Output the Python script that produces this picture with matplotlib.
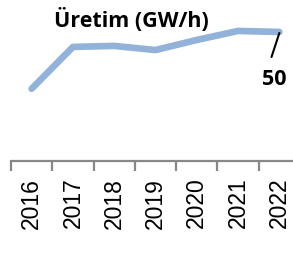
import matplotlib
matplotlib.use('Agg')
import matplotlib.pyplot as plt

years = ['2016', '2017', '2018', '2019', '2020', '2021', '2022']
production = [28, 44.2, 44.6, 43, 46.9, 50.4, 50]

fig = plt.figure(figsize=(2.93, 2.6), dpi=100)
# axes extends past the right edge, as in the reference (clipped chart)
ax = fig.add_axes([11 / 293, 99 / 260, 289 / 293, 160 / 260])

x = range(len(years))
ax.plot(x, production, color='#92B2D9', lw=4.8, solid_capstyle='round',
        solid_joinstyle='round', clip_on=False)
ax.set_xlim(-0.5, len(years) - 0.5)
ax.set_ylim(0, 62)

for s in ['top', 'right', 'left']:
    ax.spines[s].set_visible(False)
ax.spines['bottom'].set_color('#888888')
ax.spines['bottom'].set_linewidth(1.6)
ax.set_yticks([])
ax.set_xticks([i - 0.5 for i in range(len(years) + 1)], minor=False)
ax.set_xticklabels([])
ax.tick_params(axis='x', length=7, width=1.6, color='#888888', direction='out')
ax.set_xticks(list(x), minor=True)
ax.set_xticklabels(years, minor=True, rotation=90, fontsize=16.5,
                   family='Liberation Sans')
ax.tick_params(axis='x', which='minor', length=0, pad=12)

# data label with leader line
last = len(years) - 1
ax.annotate('', xy=(last, production[-1] - 0.4), xytext=(last - 0.19, 40.3),
            arrowprops=dict(arrowstyle='-', color='black', lw=1.5,
                            shrinkA=0, shrinkB=0))
ax.text(last - 0.13, 31.4, '50', ha='center', va='center', fontsize=15.5,
        fontweight='bold', family='Open Sans')

fig.text(131 / 293, 1 - 20 / 260, 'Üretim (GW/h)', ha='center', va='center',
         fontsize=15.5, fontweight='bold', family='Open Sans')

fig.savefig('out.png', dpi=100)
